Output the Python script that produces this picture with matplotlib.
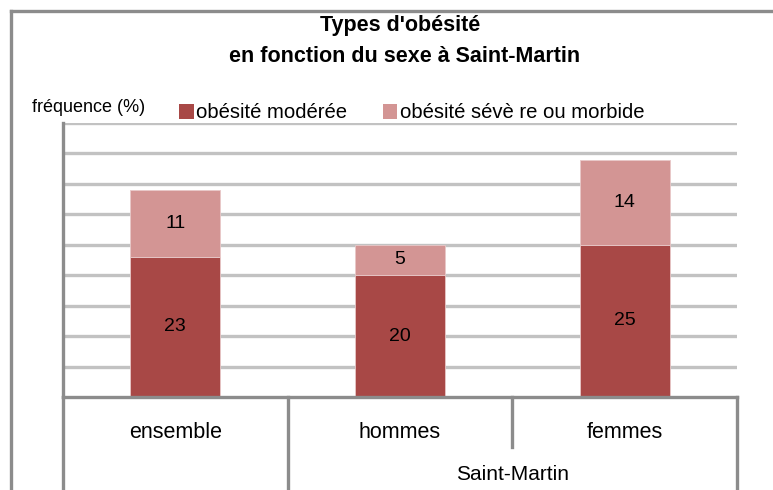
import matplotlib
matplotlib.use("Agg")
import matplotlib.pyplot as plt
from matplotlib.lines import Line2D
from matplotlib.patches import Patch
import matplotlib.transforms as mtransforms

categories = ["ensemble", "hommes", "femmes"]
moderee = [23, 20, 25]
severe = [11, 5, 14]
series_names = ["obésité modérée", "obésité sévè re ou morbide"]
group_label = "Saint-Martin"
title_lines = ["Types d'obésité", "en fonction du sexe à Saint-Martin"]
ylabel = "fréquence (%)"

FONT = ["Liberation Sans Narrow", "Liberation Sans", "DejaVu Sans"]
plt.rcParams["font.family"] = FONT

W, H = 773, 490
DPI = 100
fig = plt.figure(figsize=(W / DPI, H / DPI), dpi=DPI)

def fx(px):
    return px / W

def fy(py):
    return 1 - py / H

C_DARK = "#A84846"
C_LIGHT = "#D39594"
C_AXIS = "#8C8C8C"
C_GRID = "#C2C2C2"

# axes region
x0, x1 = 63, 737
y_top, y_bot = 123, 397
ax = fig.add_axes([fx(x0), fy(y_bot), fx(x1) - fx(x0), (y_bot - y_top) / H])
ax.set_xlim(-0.5, 2.5)
ax.set_ylim(0, 45)

for s in ["top", "right"]:
    ax.spines[s].set_visible(False)
for s in ["left", "bottom"]:
    ax.spines[s].set_color(C_AXIS)
    ax.spines[s].set_linewidth(2.4)
    ax.spines[s].set_zorder(4)
ax.set_xticks([])
ax.set_yticks(range(5, 50, 5))
ax.tick_params(axis="y", length=0, labelleft=False)
ax.yaxis.grid(True, color=C_GRID, linewidth=2.4, linestyle="-")
ax.set_axisbelow(True)

xs = list(range(len(categories)))
bw = 0.4
ax.bar(xs, moderee, width=bw, color=C_DARK, edgecolor="#E8C8C8", linewidth=0.6, zorder=3)
ax.bar(xs, severe, width=bw, bottom=moderee, color=C_LIGHT, edgecolor="#E8C8C8", linewidth=0.6, zorder=3)
for x, m, s in zip(xs, moderee, severe):
    ax.text(x, m / 2, str(m), ha="center", va="center", fontsize=14, color="black", zorder=5)
    ax.text(x, m + s / 2, str(s), ha="center", va="center", fontsize=14, color="black", zorder=5)

# category axis separators
trans = mtransforms.blended_transform_factory(ax.transData, ax.transAxes)
h_ax = y_bot - y_top
deep = -(H - y_bot + 5) / h_ax
short = -(447 - y_bot) / h_ax
for xv, yb in [(-0.5, deep), (0.5, deep), (1.5, short), (2.5, deep)]:
    ax.add_line(Line2D([xv, xv], [0, yb], transform=trans, color=C_AXIS, lw=2.4, clip_on=False, zorder=4))

for x, lab in zip(xs, categories):
    ax.text(x, -(432 - y_bot) / h_ax, lab, transform=trans, ha="center", va="center", fontsize=15.5)
ax.text(1.5, -(475 - y_bot) / h_ax, group_label, transform=trans, ha="center", va="center", fontsize=15)

# outer frame
fig.add_artist(Line2D([fx(11), fx(11)], [fy(11), fy(495)], color=C_AXIS, lw=2.4, transform=fig.transFigure))
fig.add_artist(Line2D([fx(11), fx(780)], [fy(11), fy(11)], color=C_AXIS, lw=2.4, transform=fig.transFigure))

# titles
fig.text(fx(400), fy(25), title_lines[0], ha="center", va="center", fontsize=15.5, fontweight="bold")
fig.text(fx(405), fy(57), title_lines[1], ha="center", va="center", fontsize=15.5, fontweight="bold")

fig.text(fx(32), fy(107), ylabel, ha="left", va="center", fontsize=13)

handles = [Patch(facecolor=C_DARK, edgecolor="none"), Patch(facecolor=C_LIGHT, edgecolor="none")]
fig.legend(handles, series_names, loc="center left", bbox_to_anchor=(fx(179), fy(113)),
           ncol=2, frameon=False, fontsize=14.6, handlelength=0.72, handleheight=0.72,
           handletextpad=0.12, columnspacing=1.75, borderpad=0, borderaxespad=0)

fig.savefig("out.png", dpi=DPI)
